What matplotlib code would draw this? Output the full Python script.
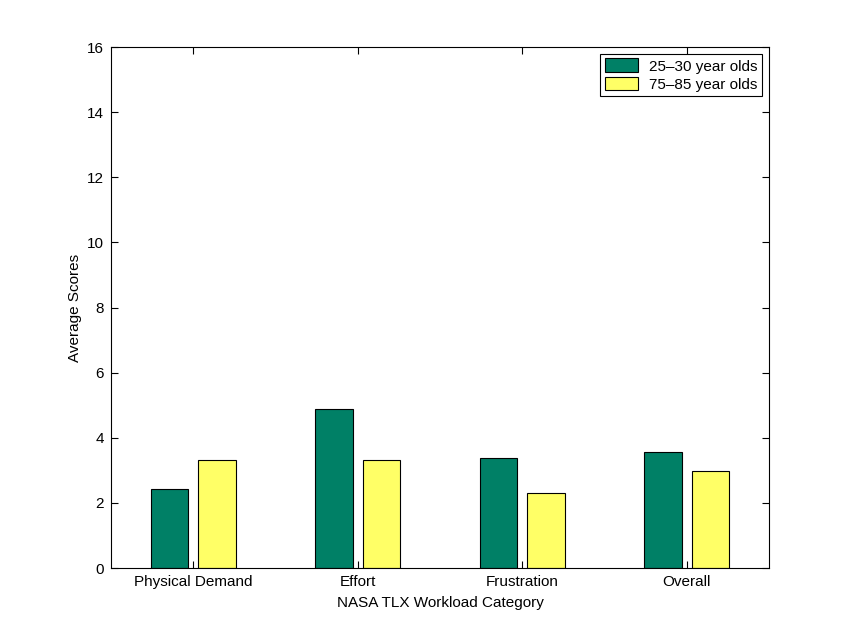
import numpy as np
import matplotlib
matplotlib.use("Agg")
from matplotlib import pyplot as plt

categories = ["Physical Demand", "Effort", "Frustration", "Overall"]
young_scores = [2.42, 4.88, 3.39, 3.56]
old_scores = [3.31, 3.31, 2.29, 2.98]
series_names = ["25\u201330 year olds", "75\u201385 year olds"]
y_ticks = [0, 2, 4, 6, 8, 10, 12, 14, 16]

plt.rcParams['font.family'] = ['Liberation Sans', 'DejaVu Sans']
plt.rcParams['font.size'] = 11

fig = plt.figure(figsize=(8.5, 6.38), dpi=100)
ax = fig.add_axes([0.1306, 0.1097, 0.7741, 0.8166])

x = np.arange(1, len(categories) + 1)
width = 0.23
ax.bar(x - 0.144, young_scores, width, color='#008066', edgecolor='black',
       linewidth=0.8, label=series_names[0])
ax.bar(x + 0.144, old_scores, width, color='#ffff66', edgecolor='black',
       linewidth=0.8, label=series_names[1])

ax.set_xlim(0.5, 4.5)
ax.set_ylim(0, 16)
ax.set_xticks(x)
ax.set_xticklabels(categories)
ax.set_yticks(y_ticks)
ax.tick_params(direction='in', length=5, width=0.8, right=True, top=True, pad=5)
for s in ax.spines.values():
    s.set_linewidth(0.8)
ax.set_xlabel("NASA TLX Workload Category", labelpad=5)
ax.set_ylabel("Average Scores", labelpad=4)

leg = ax.legend(loc='upper right', fancybox=False, edgecolor='black',
                framealpha=1, borderaxespad=0.45, handlelength=2.2,
                handleheight=1.0, labelspacing=0.2, borderpad=0.3,
                handletextpad=0.7)
leg.get_frame().set_linewidth(0.8)

fig.savefig("out.png", dpi=100)
